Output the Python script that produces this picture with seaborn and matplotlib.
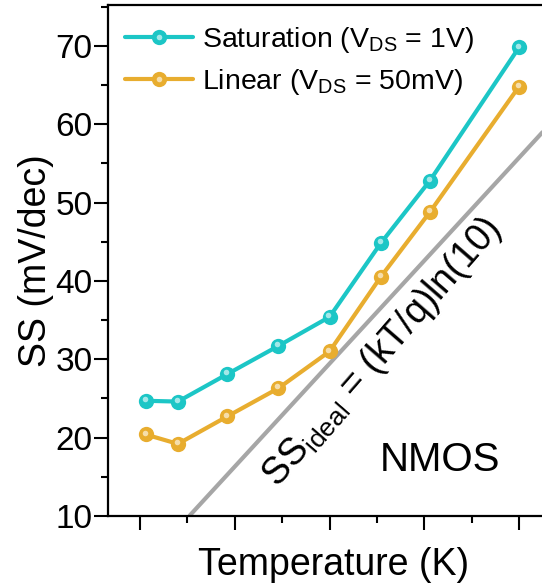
import numpy as np
import pandas as pd
import matplotlib
matplotlib.use("Agg")
import matplotlib.pyplot as plt
import seaborn as sns
from matplotlib.transforms import offset_copy
from matplotlib.ticker import MultipleLocator, NullFormatter
from matplotlib.lines import Line2D
from matplotlib.legend_handler import HandlerTuple

# ---- data ----
temperature = [3, 20, 46, 73, 100, 127, 153, 200]
ss_saturation = [24.7, 24.6, 28.1, 31.7, 35.4, 44.8, 52.8, 69.8]
ss_linear = [20.4, 19.2, 22.7, 26.3, 31.0, 40.5, 48.8, 64.8]
series_names = ["Saturation (V$_{\\mathrm{DS}}$ = 1V)", "Linear (V$_{\\mathrm{DS}}$ = 50mV)"]
ideal_T = [26, 222]
ideal_SS = [10, 61.5]

colors = ["#1CC6C6", "#E8AD2F"]

sns.set_style("ticks")
plt.rcParams["font.family"] = ["Liberation Sans", "DejaVu Sans"]
plt.rcParams["mathtext.fontset"] = "custom"
plt.rcParams["mathtext.rm"] = "Liberation Sans"
plt.rcParams["mathtext.it"] = "Liberation Sans:italic"
plt.rcParams["mathtext.default"] = "regular"
plt.rcParams["text.color"] = "black"
plt.rcParams["axes.labelcolor"] = "black"

df = pd.DataFrame({
    "T": temperature * 2,
    "SS": ss_saturation + ss_linear,
    "Mode": [series_names[0]] * len(temperature) + [series_names[1]] * len(temperature),
})

fig = plt.figure(figsize=(5.42, 5.86), dpi=100)
ax = fig.add_axes([108 / 542, 70 / 586, (560 - 108) / 542, 511 / 586])

# ideal line
ax.plot(ideal_T, ideal_SS, color="#A6A6A6", lw=3, solid_capstyle="butt", zorder=1)

sns.lineplot(data=df, x="T", y="SS", hue="Mode", palette=colors, marker="o",
             markersize=11, linewidth=3, markeredgewidth=0, sort=False,
             legend=False, ax=ax, zorder=3)

# glossy highlight on markers
tr = offset_copy(ax.transData, fig=fig, x=-0.8, y=1.3, units="points")
for ys in (ss_saturation, ss_linear):
    ax.plot(temperature, ys, "o", ms=4, color="white", alpha=0.6, mew=0,
            transform=tr, zorder=4)

# legend
handles = []
for c in colors:
    h1 = Line2D([], [], color=c, lw=3, marker="o", ms=11, mew=0)
    h2 = Line2D([], [], ls="none", marker="o", ms=4, color="white", alpha=0.6, mew=0)
    handles.append((h1, h2))
leg = ax.legend(handles, series_names, handler_map={tuple: HandlerTuple(ndivide=1)},
                loc="upper left", bbox_to_anchor=(0.0, 0.995), frameon=False,
                fontsize=20.5, handlelength=2.4, handletextpad=0.3,
                labelspacing=0.42, borderpad=0.1, numpoints=1)
for t in leg.get_texts():
    t.set_color("black")

ax.set_xlim(-16.9, 221.6)
ax.set_ylim(10, 75.2)
ax.yaxis.set_major_locator(MultipleLocator(10))
ax.yaxis.set_minor_locator(MultipleLocator(5))
ax.xaxis.set_major_locator(MultipleLocator(50))
ax.xaxis.set_minor_locator(MultipleLocator(25))
ax.xaxis.set_major_formatter(NullFormatter())

ax.tick_params(axis="both", which="major", direction="out", length=10, width=1.5,
               labelsize=24, colors="black")
ax.tick_params(axis="both", which="minor", direction="out", length=5, width=1.5,
               colors="black")
ax.tick_params(axis="y", pad=1)

for s in ["left", "bottom", "top"]:
    ax.spines[s].set_linewidth(1.6)
    ax.spines[s].set_color("black")
ax.spines["right"].set_visible(False)

ax.set_xlabel("Temperature (K)", fontsize=27, labelpad=9, color="black")
ax.set_ylabel("SS (mV/dec)", fontsize=27, labelpad=1, color="black")

ax.text(127.7, 30.9, "SS$_{\\mathrm{ideal}}$ = (kT/q)ln(10)", fontsize=27,
        rotation=49, rotation_mode="anchor", ha="center", va="center", zorder=5,
        color="black")
ax.text(158.3, 17.1, "NMOS", fontsize=29, ha="center", va="center", color="black")

fig.savefig("out.png", dpi=100)
